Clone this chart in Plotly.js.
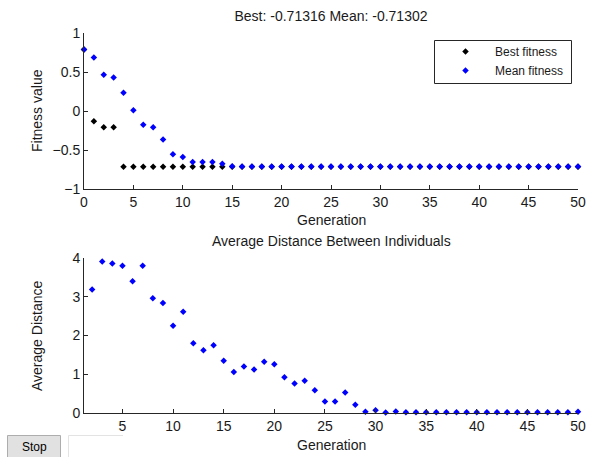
<!DOCTYPE html>
<html>
<head>
<meta charset="utf-8">
<script src="https://cdn.plot.ly/plotly-3.0.1.min.js"></script>
<style>
html,body{margin:0;padding:0;background:#fff;}
#chart{width:589px;height:457px;}
</style>
</head>
<body>
<div id="chart"></div>
<script>
// ---- data ----
var generations = [0,1,2,3,4,5,6,7,8,9,10,11,12,13,14,15,16,17,18,19,20,21,22,23,24,25,26,27,28,29,30,31,32,33,34,35,36,37,38,39,40,41,42,43,44,45,46,47,48,49,50];
var bestFitness = [0.79,-0.133,-0.207,-0.207,-0.71316,-0.71316,-0.71316,-0.71316,-0.71316,-0.71316,-0.71316,-0.71316,-0.71316,-0.71316,-0.71316,-0.71316,-0.71316,-0.71316,-0.71316,-0.71316,-0.71316,-0.71316,-0.71316,-0.71316,-0.71316,-0.71316,-0.71316,-0.71316,-0.71316,-0.71316,-0.71316,-0.71316,-0.71316,-0.71316,-0.71316,-0.71316,-0.71316,-0.71316,-0.71316,-0.71316,-0.71316,-0.71316,-0.71316,-0.71316,-0.71316,-0.71316,-0.71316,-0.71316,-0.71316,-0.71316,-0.71316];
var meanFitness = [0.79,0.686,0.466,0.43,0.233,0.01,-0.176,-0.207,-0.366,-0.556,-0.59,-0.655,-0.655,-0.655,-0.677,-0.707,-0.71302,-0.71302,-0.71302,-0.71302,-0.71302,-0.71302,-0.71302,-0.71302,-0.71302,-0.71302,-0.71302,-0.71302,-0.71302,-0.71302,-0.71302,-0.71302,-0.71302,-0.71302,-0.71302,-0.71302,-0.71302,-0.71302,-0.71302,-0.71302,-0.71302,-0.71302,-0.71302,-0.71302,-0.71302,-0.71302,-0.71302,-0.71302,-0.71302,-0.71302,-0.71302];
var distGenerations = [2,3,4,5,6,7,8,9,10,11,12,13,14,15,16,17,18,19,20,21,22,23,24,25,26,27,28,29,30,31,32,33,34,35,36,37,38,39,40,41,42,43,44,45,46,47,48,49,50];
var avgDistance = [3.19,3.91,3.86,3.80,3.40,3.80,2.96,2.84,2.25,2.61,1.80,1.62,1.75,1.35,1.06,1.20,1.12,1.32,1.26,0.92,0.76,0.83,0.59,0.30,0.30,0.53,0.21,0.03,0.07,0.01,0.04,0.02,0.02,0.02,0.02,0.02,0.02,0.02,0.02,0.02,0.02,0.02,0.02,0.02,0.02,0.02,0.02,0.02,0.03];
var topXTicks = [0,5,10,15,20,25,30,35,40,45,50];
var topYTicks = [-1,-0.5,0,0.5,1];
var botXTicks = [5,10,15,20,25,30,35,40,45,50];
var botYTicks = [0,1,2,3,4];
var mainTitle = 'Best: -0.71316 Mean: -0.71302';
var distTitle = 'Average Distance Between Individuals';

// ---- layout helpers ----
var W = 589, H = 457;
function px(x){return x/W;}
function py(y){return 1 - y/H;}
var FONT = 'Liberation Sans, Arial, sans-serif';
var TXT = '#1a1a1a';
var AX = '#262626';

function axisStyle(extra){
  var a = {showline:true, linecolor:AX, linewidth:1, ticks:'inside', ticklen:4, tickcolor:AX,
    tickwidth:1, showgrid:false, zeroline:false, mirror:false, fixedrange:true,
    tickfont:{family:FONT, size:14, color:TXT}};
  for (var k in extra) a[k] = extra[k];
  return a;
}

var traces = [
  {x:generations, y:bestFitness, name:'Best fitness', type:'scatter', mode:'markers',
   marker:{symbol:'diamond', size:5, color:'#000000'}, xaxis:'x', yaxis:'y', cliponaxis:false},
  {x:generations, y:meanFitness, name:'Mean fitness', type:'scatter', mode:'markers',
   marker:{symbol:'diamond', size:5, color:'#0000ff'}, xaxis:'x', yaxis:'y', cliponaxis:false},
  {x:distGenerations, y:avgDistance, name:'Average Distance', type:'scatter', mode:'markers',
   marker:{symbol:'diamond', size:5, color:'#0000ff'}, xaxis:'x2', yaxis:'y2', cliponaxis:false, showlegend:false}
];

var layout = {
  width:W, height:H,
  margin:{l:0,r:0,t:0,b:0},
  paper_bgcolor:'#ffffff', plot_bgcolor:'rgba(0,0,0,0)',
  font:{family:FONT, size:14, color:TXT},
  title:{text:mainTitle, x:px(331), xanchor:'center', y:py(16), yanchor:'middle', xref:'paper', yref:'paper',
    font:{family:FONT, size:14, color:TXT}},
  xaxis: axisStyle({domain:[px(84), px(578)], range:[0,50], tickvals:topXTicks, anchor:'y'}),
  yaxis: axisStyle({domain:[py(189), py(33)], range:[-1,1], tickvals:topYTicks, anchor:'x'}),
  xaxis2: axisStyle({domain:[px(84), px(578)], range:[1.2,50], tickvals:botXTicks, anchor:'y2'}),
  yaxis2: axisStyle({domain:[py(413), py(258)], range:[0,4], tickvals:botYTicks, anchor:'x2'}),
  showlegend:true,
  legend:{x:px(436), y:py(37), xanchor:'left', yanchor:'top', bgcolor:'rgba(0,0,0,0)',
    borderwidth:0, itemwidth:49, font:{family:FONT, size:12, color:TXT}},
  annotations:[
    {text:'Generation', xref:'paper', yref:'paper', x:px(331), y:py(220), xanchor:'center', yanchor:'middle', showarrow:false, font:{family:FONT,size:14,color:TXT}},
    {text:'Generation', xref:'paper', yref:'paper', x:px(331), y:py(445), xanchor:'center', yanchor:'middle', showarrow:false, font:{family:FONT,size:14,color:TXT}},
    {text:'Fitness value', xref:'paper', yref:'paper', x:px(37), y:py(111), xanchor:'center', yanchor:'middle', textangle:-90, showarrow:false, font:{family:FONT,size:14,color:TXT}},
    {text:'Average Distance', xref:'paper', yref:'paper', x:px(37), y:py(336), xanchor:'center', yanchor:'middle', textangle:-90, showarrow:false, font:{family:FONT,size:14,color:TXT}},
    {text:distTitle, xref:'paper', yref:'paper', x:px(331), y:py(241), xanchor:'center', yanchor:'middle', showarrow:false, font:{family:FONT,size:14,color:TXT}},
    {text:'Stop', xref:'paper', yref:'paper', x:px(34), y:py(446.5), xanchor:'center', yanchor:'middle', showarrow:false, font:{family:FONT,size:12,color:'#000'}}
  ],
  shapes:[
    {type:'rect', xref:'paper', yref:'paper', x0:px(434.5), x1:px(571.5), y0:py(83.5), y1:py(40.5), line:{color:AX, width:1}, fillcolor:'#ffffff', layer:'below'},
    {type:'line', xref:'paper', yref:'paper', x0:px(68.5), x1:px(123), y0:py(435.5), y1:py(435.5), line:{color:'#e3e3e3', width:1}},
    {type:'line', xref:'paper', yref:'paper', x0:px(68.5), x1:px(68.5), y0:py(435.5), y1:py(470), line:{color:'#e3e3e3', width:1}},
    {type:'rect', xref:'paper', yref:'paper', x0:px(7.5), x1:px(60.5), y0:py(470), y1:py(435.5), line:{color:'#adadad', width:1}, fillcolor:'#e1e1e1', layer:'below'}
  ]
};

Plotly.newPlot('chart', traces, layout, {displayModeBar:false, staticPlot:true});
</script>
</body>
</html>
